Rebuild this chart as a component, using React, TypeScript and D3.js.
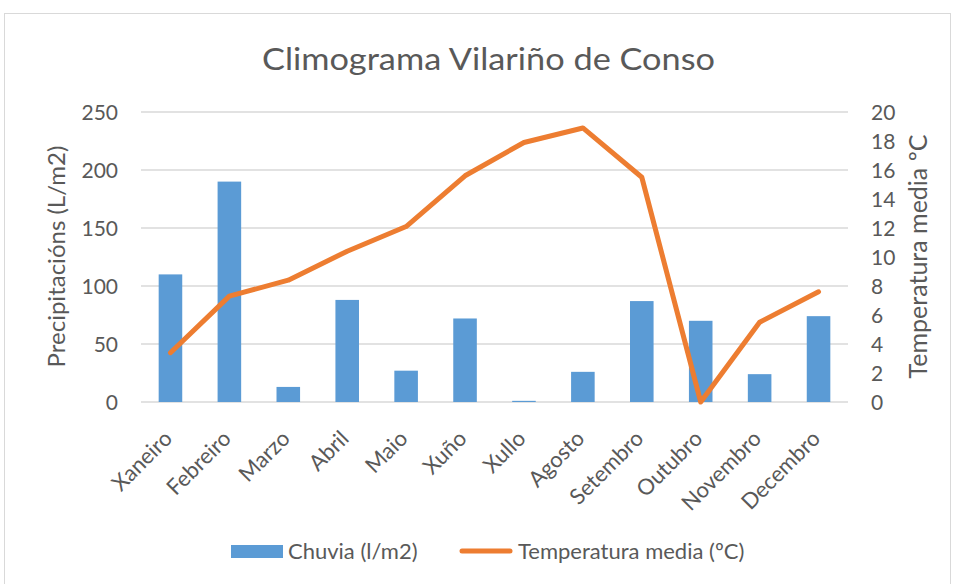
import * as d3 from "d3";
import { useEffect, useRef } from "react";

// months
const months = ["Xaneiro", "Febreiro", "Marzo", "Abril", "Maio", "Xuño", "Xullo", "Agosto", "Setembro", "Outubro", "Novembro", "Decembro"];
// Chuvia (l/m2)
const rain = [110, 190, 13, 88, 27, 72, 1, 26, 87, 70, 24, 74];
// Temperatura media (ºC)
const temp = [3.4, 7.3, 8.4, 10.4, 12.1, 15.6, 17.9, 18.9, 15.5, 0, 5.5, 7.6];
const leftTicks = [0, 50, 100, 150, 200, 250];
const rightTicks = [0, 2, 4, 6, 8, 10, 12, 14, 16, 18, 20];

const FONT = "Lato, 'Open Sans', sans-serif";
const TEXT = "#595959";
const BLUE = "#5B9BD5";
const ORANGE = "#ED7D31";
const GRID = "#d9d9d9";

const App = () => {
    const ref = useRef<SVGSVGElement>(null);

    useEffect(() => {
        const svg = d3.select(ref.current);
        svg.selectAll("*").remove();

        const left = 141, right = 848, top = 112, bottom = 402;

        // chart frame
        svg.append("rect")
            .attr("x", 4.5).attr("y", 13.5)
            .attr("width", 946).attr("height", 580)
            .attr("fill", "white").attr("stroke", GRID);

        svg.append("text")
            .attr("x", 262).attr("y", 69.5)
            .attr("textLength", 453).attr("lengthAdjust", "spacingAndGlyphs")
            .attr("font-family", FONT).attr("font-size", 31)
            .attr("fill", TEXT)
            .text("Climograma Vilariño de Conso");

        const x = d3.scaleBand().domain(months).range([left, right]).paddingInner(0.6).paddingOuter(0.3);
        const xc = d3.scaleBand().domain(months).range([left, right]);
        const yL = d3.scaleLinear().domain([0, 250]).range([bottom, top]);
        const yR = d3.scaleLinear().domain([0, 20]).range([bottom, top]);

        // gridlines
        svg.append("g")
            .selectAll("line")
            .data(leftTicks)
            .join("line")
            .attr("x1", left).attr("x2", right)
            .attr("y1", (d) => yL(d)).attr("y2", (d) => yL(d))
            .attr("stroke", GRID).attr("stroke-width", 1.3);

        // left ticks
        svg.append("g")
            .selectAll("text")
            .data(leftTicks)
            .join("text")
            .attr("x", 118).attr("y", (d) => yL(d) + 7.5)
            .attr("text-anchor", "end")
            .attr("font-family", FONT).attr("font-size", 21).attr("fill", TEXT)
            .text((d) => d);

        // right ticks
        svg.append("g")
            .selectAll("text")
            .data(rightTicks)
            .join("text")
            .attr("x", 871).attr("y", (d) => yR(d) + 7.5)
            .attr("text-anchor", "start")
            .attr("font-family", FONT).attr("font-size", 21).attr("fill", TEXT)
            .text((d) => d);

        // axis titles
        svg.append("text")
            .attr("transform", `translate(65,256.5) rotate(-90)`)
            .attr("text-anchor", "middle")
            .attr("font-family", FONT).attr("font-size", 24).attr("fill", TEXT)
            .text("Precipitacións (L/m2)");

        svg.append("text")
            .attr("transform", `translate(927,256.5) rotate(-90)`)
            .attr("text-anchor", "middle")
            .attr("font-family", FONT).attr("font-size", 25).attr("fill", TEXT)
            .text("Temperatura media ºC");

        // bars
        svg.append("g")
            .selectAll("rect")
            .data(rain)
            .join("rect")
            .attr("x", (d, i) => x(months[i]))
            .attr("y", (d) => yL(d))
            .attr("width", x.bandwidth())
            .attr("height", (d) => bottom - yL(d))
            .attr("fill", BLUE);

        // line
        const line = d3.line<number>()
            .x((d, i) => xc(months[i]) + xc.bandwidth() / 2)
            .y((d) => yR(d));
        svg.append("path")
            .datum(temp)
            .attr("d", line)
            .attr("fill", "none")
            .attr("stroke", ORANGE).attr("stroke-width", 5)
            .attr("stroke-linejoin", "round").attr("stroke-linecap", "round");

        // x labels
        svg.append("g")
            .selectAll("text")
            .data(months)
            .join("text")
            .attr("transform", (d) => `translate(${xc(d) + xc.bandwidth() / 2 + 3},${bottom + 38}) rotate(-45)`)
            .attr("text-anchor", "end")
            .attr("font-family", FONT).attr("font-size", 22).attr("fill", TEXT)
            .text((d) => d);

        // legend
        const lg = svg.append("g");
        lg.append("rect").attr("x", 231).attr("y", 545).attr("width", 52).attr("height", 13).attr("fill", BLUE);
        lg.append("text").attr("x", 288).attr("y", 558.5)
            .attr("font-family", FONT).attr("font-size", 22).attr("fill", TEXT)
            .text("Chuvia (l/m2)");
        lg.append("line").attr("x1", 462).attr("x2", 510).attr("y1", 551).attr("y2", 551)
            .attr("stroke", ORANGE).attr("stroke-width", 5).attr("stroke-linecap", "round");
        lg.append("text").attr("x", 518).attr("y", 558.5)
            .attr("font-family", FONT).attr("font-size", 22).attr("fill", TEXT)
            .text("Temperatura media (ºC)");
    }, []);

    return (
        <svg ref={ref} width={954} height={584}
            style={{ position: "absolute", left: 0, top: 0, display: "block", background: "white" }} />
    );
};

export default App;
